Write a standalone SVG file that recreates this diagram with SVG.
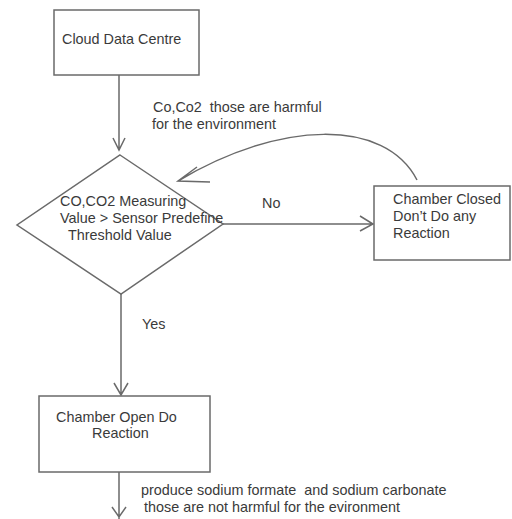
<svg xmlns="http://www.w3.org/2000/svg" width="512" height="519" viewBox="0 0 512 519">
<style>
.box{fill:#fff;stroke:#6a6a6a;stroke-width:1.5}
.ln{fill:none;stroke:#6a6a6a;stroke-width:1.5}
text{font-family:"Liberation Sans",Arial,sans-serif;font-size:14.4px;fill:#3a3a3a}
</style>
<rect width="512" height="519" fill="#fff"/>
<g id="connectors">
<path class="ln" d="M119,75 V150 M113,138 L119,150 L125,138"/>
<path class="ln" d="M223,224 H373 M360,216 L373,224 L360,231"/>
<path class="ln" d="M417,180 C385,118 280,120 178,181 M197,167 L178,181 L210,182"/>
<path class="ln" d="M121,294 V395 M114,383 L121,395 L128,383"/>
<path class="ln" d="M119,472 V519 M112,507 L119,517 L126,507"/>
<text x="153" y="112" xml:space="preserve">Co,Co2  those are harmful</text>
<text x="152" y="129">for the environment</text>
<text x="262" y="208">No</text>
<text x="142" y="329">Yes</text>
<text x="141" y="495" xml:space="preserve">produce sodium formate  and sodium carbonate</text>
<text x="144" y="512">those are not harmful for the evironment</text>
</g>
<g id="cloud">
<rect class="box" x="54" y="10" width="145" height="65"/>
<text x="62" y="44">Cloud Data Centre</text>
</g>
<g id="decision">
<polygon class="box" points="120,155 223,224 121,294 17,225"/>
<text x="60" y="206">CO,CO2 Measuring</text>
<text x="60" y="223">Value &gt; Sensor Predefine</text>
<text x="68" y="240">Threshold Value</text>
</g>
<g id="closed">
<rect class="box" x="374" y="186" width="136" height="74"/>
<text x="393" y="204">Chamber Closed</text>
<text x="393" y="221">Don’t Do any</text>
<text x="393" y="238">Reaction</text>
</g>
<g id="open">
<rect class="box" x="39" y="396" width="171" height="76"/>
<text x="56" y="422">Chamber Open Do</text>
<text x="92" y="438">Reaction</text>
</g>
</svg>
